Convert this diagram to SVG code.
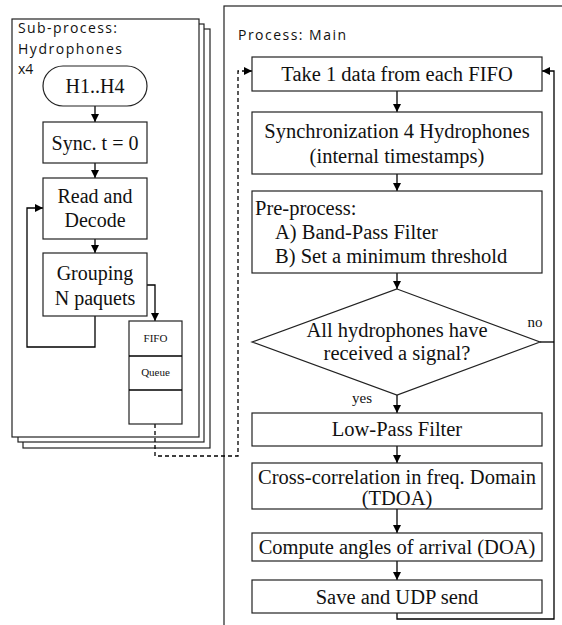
<svg xmlns="http://www.w3.org/2000/svg" width="562" height="625" viewBox="0 0 562 625">
  <style>
    .panel { fill: #fff; stroke: #222; stroke-width: 1.2; }
    .box { fill: #fff; stroke: #222; stroke-width: 1.2; }
    .line { fill: none; stroke: #000; stroke-width: 1.3; }
    .dash { fill: none; stroke: #000; stroke-width: 1.3; stroke-dasharray: 4 3; }
    .serif { font-family: "Liberation Serif", "Times New Roman", serif; font-size: 20px; fill: #111; }
    .big { font-size: 20.5px; }
    .mid { text-anchor: middle; }
    .sans { font-family: "Open Sans", "Liberation Sans", sans-serif; font-size: 14px; fill: #111; }
    .small { font-family: "Liberation Serif", "Times New Roman", serif; font-size: 11px; fill: #111; text-anchor: middle; }
    .label { font-family: "Liberation Serif", "Times New Roman", serif; font-size: 15px; fill: #111; text-anchor: middle; }
  </style>
  <defs>
    <marker id="arrow" markerUnits="userSpaceOnUse" markerWidth="9" markerHeight="9" refX="8" refY="4.5" orient="auto">
      <path d="M0,0.5 L8,4.5 L0,8.5 z" fill="#000"/>
    </marker>
  </defs>
  <rect width="562" height="625" fill="#fff"/>

  <!-- Sub-process panels (stacked x4) -->
  <g id="subprocess">
    <rect class="panel" x="23" y="29" width="187" height="419"/>
    <rect class="panel" x="18" y="24" width="186" height="418"/>
    <rect class="panel" x="12" y="19" width="187" height="418"/>
    <text class="sans" x="18" y="33" textLength="99" lengthAdjust="spacing">Sub-process:</text>
    <text class="sans" x="18" y="54" textLength="104" lengthAdjust="spacing">Hydrophones</text>
    <text class="sans" x="18" y="74">x4</text>
  </g>

  <!-- Main process panel -->
  <g id="main">
    <rect class="panel" x="224" y="6" width="360" height="640"/>
    <text class="sans" x="238" y="40" textLength="108" lengthAdjust="spacing">Process: Main</text>
  </g>

  <!-- Connectors -->
  <g id="connectors">
    <line class="line" x1="95" y1="106" x2="95" y2="122" marker-end="url(#arrow)"/>
    <line class="line" x1="95" y1="163" x2="95" y2="178" marker-end="url(#arrow)"/>
    <line class="line" x1="95" y1="239" x2="95" y2="253" marker-end="url(#arrow)"/>
    <polyline class="line" points="95,316 95,347 27,347 27,208 43,208" marker-end="url(#arrow)"/>
    <polyline class="line" points="147,285 155,285 155,321" marker-end="url(#arrow)"/>
    <polyline class="dash" points="155,424 155,456 238,456 238,71 252,71" marker-end="url(#arrow)"/>
    <line class="line" x1="397" y1="91" x2="397" y2="112" marker-end="url(#arrow)"/>
    <line class="line" x1="397" y1="174" x2="397" y2="191" marker-end="url(#arrow)"/>
    <line class="line" x1="397" y1="273" x2="397" y2="289" marker-end="url(#arrow)"/>
    <line class="line" x1="397" y1="395" x2="397" y2="413" marker-end="url(#arrow)"/>
    <line class="line" x1="397" y1="446" x2="397" y2="463" marker-end="url(#arrow)"/>
    <line class="line" x1="397" y1="509" x2="397" y2="533" marker-end="url(#arrow)"/>
    <line class="line" x1="397" y1="561" x2="397" y2="580" marker-end="url(#arrow)"/>
    <polyline class="line" points="540,342 554,342"/>
    <polyline class="line" points="397,613 397,619 554,619 554,71 542,71" marker-end="url(#arrow)"/>
    <text class="label" x="535" y="327">no</text>
    <text class="label" x="362" y="403">yes</text>
  </g>

  <!-- Sub-process nodes -->
  <g id="h1h4">
    <rect class="box" x="43" y="66" width="104" height="40" rx="20" ry="20"/>
    <text class="serif mid" x="95" y="93">H1..H4</text>
  </g>
  <g id="sync">
    <rect class="box" x="43" y="122" width="104" height="41"/>
    <text class="serif mid" x="95" y="150">Sync. t = 0</text>
  </g>
  <g id="read">
    <rect class="box" x="43" y="178" width="104" height="61"/>
    <text class="serif mid" x="95" y="203">Read and</text>
    <text class="serif mid" x="95" y="227">Decode</text>
  </g>
  <g id="grouping">
    <rect class="box" x="43" y="253" width="104" height="63"/>
    <text class="serif mid" x="95" y="280">Grouping</text>
    <text class="serif mid" x="95" y="305">N paquets</text>
  </g>
  <g id="fifo">
    <rect class="box" x="129" y="321" width="53" height="103"/>
    <line class="line" x1="129" y1="356" x2="182" y2="356"/>
    <line class="line" x1="129" y1="390" x2="182" y2="390"/>
    <text class="small" x="155.5" y="342">FIFO</text>
    <text class="small" x="155.5" y="376">Queue</text>
  </g>

  <!-- Main process nodes -->
  <g id="take">
    <rect class="box" x="252" y="57" width="290" height="34"/>
    <text class="serif big mid" x="397" y="81">Take 1 data from each FIFO</text>
  </g>
  <g id="synchro">
    <rect class="box" x="252" y="112" width="290" height="62"/>
    <text class="serif big mid" x="397" y="138">Synchronization 4 Hydrophones</text>
    <text class="serif big mid" x="397" y="163">(internal timestamps)</text>
  </g>
  <g id="preprocess">
    <rect class="box" x="252" y="191" width="290" height="82"/>
    <text class="serif big" x="255" y="215">Pre-process:</text>
    <text class="serif big" x="275" y="239">A) Band-Pass Filter</text>
    <text class="serif big" x="275" y="263">B) Set a minimum threshold</text>
  </g>
  <g id="decision">
    <polygon class="box" points="397,289 540,342 397,395 252,342"/>
    <text class="serif big mid" x="397" y="337">All hydrophones have</text>
    <text class="serif big mid" x="397" y="360">received a signal?</text>
  </g>
  <g id="lowpass">
    <rect class="box" x="252" y="413" width="290" height="33"/>
    <text class="serif big mid" x="397" y="436">Low-Pass Filter</text>
  </g>
  <g id="xcorr">
    <rect class="box" x="252" y="463" width="290" height="46"/>
    <text class="serif big mid" x="397" y="484">Cross-correlation in freq. Domain</text>
    <text class="serif big mid" x="397" y="505">(TDOA)</text>
  </g>
  <g id="doa">
    <rect class="box" x="252" y="533" width="290" height="28"/>
    <text class="serif big mid" x="397" y="554">Compute angles of arrival (DOA)</text>
  </g>
  <g id="save">
    <rect class="box" x="252" y="580" width="290" height="33"/>
    <text class="serif big mid" x="397" y="604">Save and UDP send</text>
  </g>
</svg>
